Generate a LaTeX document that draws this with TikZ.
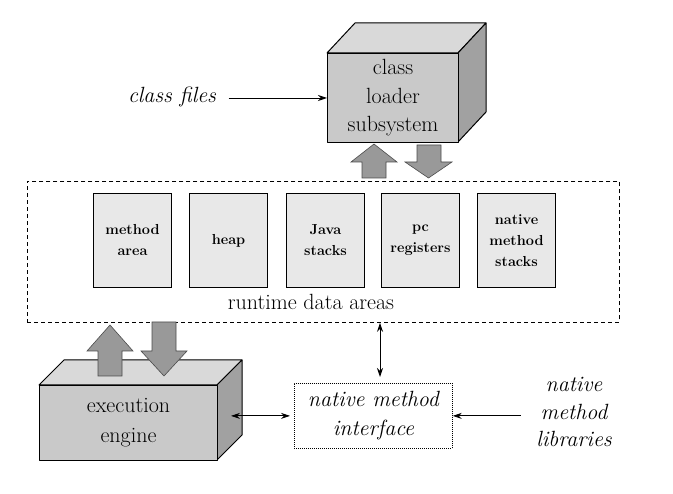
\documentclass[tikz,border=0pt]{standalone}
\usetikzlibrary{arrows.meta}
\definecolor{cfront}{gray}{0.79}
\definecolor{ctop}{gray}{0.85}
\definecolor{cside}{gray}{0.63}
\definecolor{blockarrow}{gray}{0.60}
\definecolor{areafill}{gray}{0.91}
\begin{document}
\begin{tikzpicture}[x=1pt,y=-1pt,
  bigtext/.style={font=\fontsize{22}{28.5}\selectfont, align=center},
  cubeface/.style={draw=black, line width=1pt, line join=round},
  cubefront/.style={cubeface, fill=cfront, inner sep=0pt, anchor=north west, bigtext},
  areabox/.style={draw=black, line width=1pt, fill=areafill, anchor=north west,
    minimum width=78pt, minimum height=94pt, inner sep=0pt, align=center,
    font=\fontsize{14.5}{21}\selectfont\bfseries},
  blockarr/.style={draw=black!70, line width=0.6pt, fill=blockarrow, line join=miter},
  arr/.style={-{Stealth[length=9pt,width=6pt]}, line width=0.9pt},
  arrboth/.style={{Stealth[length=9pt,width=6pt]}-{Stealth[length=9pt,width=6pt]}, line width=0.9pt}
]
\useasboundingbox (0,0) rectangle (673,494);

% class loader cube
\draw[cubeface, fill=ctop] (327,53) -- (355,23) -- (486,23) -- (458,53) -- cycle;
\draw[cubeface, fill=cside] (458,53) -- (486,23) -- (486,112) -- (458,142) -- cycle;
\node[cubefront, minimum width=131pt, minimum height=89pt] (cl) at (327,53)
  {class\\loader\\subsystem};

% class files
\node[bigtext, font=\fontsize{22}{28.5}\selectfont\itshape] (cf) at (172,97) {class files};
\draw[arr] ([xshift=9pt]cf.east |- cl.west) -- (cl.west);

% block arrows under class loader
\draw[blockarr] (362,178) -- (362,162) -- (351,162) -- (374,144) -- (397,162) -- (386,162) -- (386,178) -- cycle;
\draw[blockarr] (417,145) -- (441,145) -- (441,162) -- (452,162) -- (428.5,178) -- (405,162) -- (417,162) -- cycle;

% runtime data areas
\node[draw, dashed, dash pattern=on 4pt off 3pt, line width=0.8pt, anchor=north west,
  minimum width=592pt, minimum height=141pt, inner sep=0pt] (rda) at (27,181) {};
\node[areabox] (ma) at (93,193) {method\\area};
\node[areabox] (hp) at (189,193) {heap};
\node[areabox] (js) at (286,193) {Java\\stacks};
\node[areabox] (pc) at (381,193) {pc\\registers};
\node[areabox] (nms) at (477,193) {native\\method\\stacks};
\node[bigtext] (rdal) at (311,302) {runtime data areas};

% execution engine cube
\draw[cubeface, fill=ctop] (39,385) -- (64,360) -- (242,360) -- (217,385) -- cycle;
\draw[cubeface, fill=cside] (217,385) -- (242,360) -- (242,435) -- (217,460) -- cycle;
\node[cubefront, minimum width=178pt, minimum height=75pt, font=\fontsize{22}{30}\selectfont] (ee) at (39,385)
  {execution\\engine};

% block arrows above engine
\draw[blockarr] (98,376) -- (98,351) -- (87,351) -- (110,325) -- (133,351) -- (122,351) -- (122,376) -- cycle;
\draw[blockarr] (152,322) -- (176,322) -- (176,351) -- (187,351) -- (164,376) -- (141,351) -- (152,351) -- cycle;

% native method interface
\node[draw, dash pattern=on 1pt off 1pt, line width=0.8pt, anchor=north west,
  minimum width=158pt, minimum height=65pt, inner sep=0pt, align=center,
  font=\fontsize{22}{29}\selectfont\itshape] (nmi) at (294,383) {native method\\interface};

% native method libraries
\node[align=center, font=\fontsize{22}{27.5}\selectfont\itshape] (lib) at (574,412)
  {native\\method\\libraries};

% connectors
\coordinate (eeport) at (231,0);
\draw[arrboth, shorten >=4pt] (eeport |- nmi.west) -- (nmi.west);
\coordinate (vx) at (380,0);
\draw[arrboth, shorten >=6pt] (rda.south -| vx) -- (nmi.north -| vx);
\draw[arr] ([xshift=-12pt]lib.west |- nmi.east) -- (nmi.east);
\end{tikzpicture}
\end{document}
